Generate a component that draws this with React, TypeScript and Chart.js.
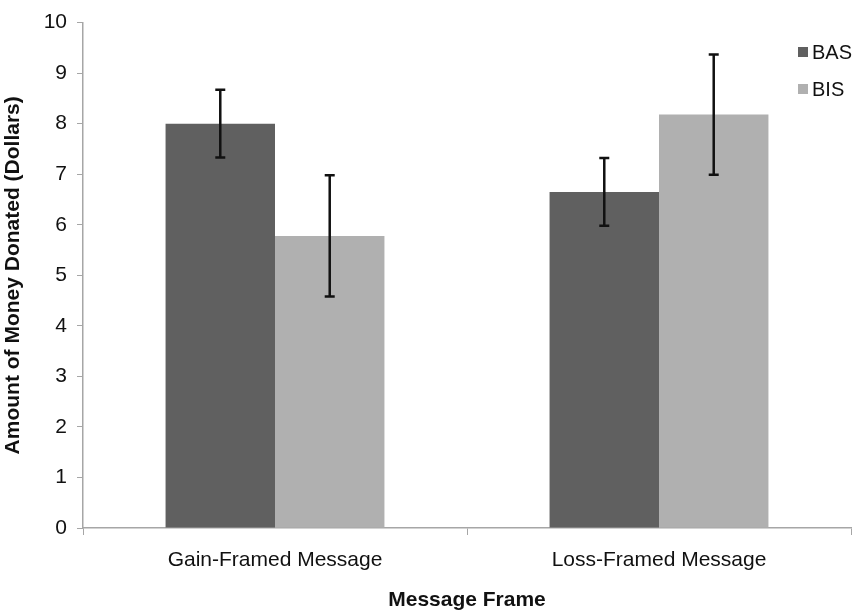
import React, { useEffect, useRef } from "react";
import { Chart, registerables } from "chart.js";

Chart.register(...registerables);

const categories = ["Gain-Framed Message", "Loss-Framed Message"];
const seriesNames = ["BAS", "BIS"];
const basValues = [8.0, 6.65];
const bisValues = [5.78, 8.18];
const basErrors = [0.67, 0.67];
const bisErrors = [1.2, 1.19];
const yTicks = [0, 1, 2, 3, 4, 5, 6, 7, 8, 9, 10];
const seriesColors = ["#606060", "#b0b0b0"];

const FONT = "'Liberation Sans', Arial, sans-serif";

const errorBarPlugin = {
  id: "errorBars",
  afterDatasetsDraw(chart: any) {
    const { ctx } = chart;
    const yScale = chart.scales.y;
    chart.data.datasets.forEach((ds: any, di: number) => {
      const meta = chart.getDatasetMeta(di);
      const errs: number[] = ds.errors || [];
      meta.data.forEach((el: any, i: number) => {
        const v = ds.data[i];
        const e = errs[i];
        if (e == null) return;
        const x = el.x;
        const yHi = yScale.getPixelForValue(v + e);
        const yLo = yScale.getPixelForValue(v - e);
        ctx.save();
        ctx.strokeStyle = "#111";
        ctx.lineWidth = 2.5;
        ctx.beginPath();
        ctx.moveTo(x, yHi);
        ctx.lineTo(x, yLo);
        ctx.moveTo(x - 5, yHi);
        ctx.lineTo(x + 5, yHi);
        ctx.moveTo(x - 5, yLo);
        ctx.lineTo(x + 5, yLo);
        ctx.stroke();
        ctx.restore();
      });
    });
  },
};

const legendPlugin = {
  id: "customLegend",
  afterDraw(chart: any) {
    const { ctx } = chart;
    const x0 = 798;
    const ys = [52, 89];
    ctx.save();
    chart.data.datasets.forEach((ds: any, i: number) => {
      const cy = ys[i];
      ctx.fillStyle = ds.backgroundColor;
      ctx.fillRect(x0, cy - 5, 10, 10);
      ctx.fillStyle = "#111";
      ctx.font = `20px ${FONT}`;
      ctx.textBaseline = "middle";
      ctx.textAlign = "left";
      ctx.fillText(ds.label, x0 + 14, cy + 1);
    });
    ctx.restore();
  },
};

export default function App() {
  const ref = useRef<HTMLCanvasElement | null>(null);

  useEffect(() => {
    if (!ref.current) return;
    const chart = new Chart(ref.current, {
      type: "bar",
      data: {
        labels: categories,
        datasets: [
          {
            label: seriesNames[0],
            data: basValues,
            backgroundColor: seriesColors[0],
            errors: basErrors,
            categoryPercentage: 0.57,
            barPercentage: 1.0,
          } as any,
          {
            label: seriesNames[1],
            data: bisValues,
            backgroundColor: seriesColors[1],
            errors: bisErrors,
            categoryPercentage: 0.57,
            barPercentage: 1.0,
          } as any,
        ],
      },
      options: {
        responsive: false,
        animation: false,
        layout: { padding: { top: 18, right: 6, left: 0, bottom: 0 } },
        plugins: {
          legend: { display: false },
          tooltip: { enabled: false },
        },
        scales: {
          x: {
            offset: true,
            grid: {
              display: true,
              drawOnChartArea: false,
              drawTicks: true,
              tickLength: 7,
              color: "#a6a6a6",
              offset: true,
            },
            border: { display: true, color: "#a6a6a6", width: 1.5 },
            ticks: {
              color: "#111",
              font: { family: FONT, size: 21 },
              padding: 13,
              maxRotation: 0,
            },
            title: {
              display: true,
              text: "Message Frame",
              color: "#111",
              font: { family: FONT, size: 21, weight: "bold" },
              padding: { top: 0, bottom: 0 },
            },
            afterFit(scale: any) {
              scale.height = 85;
            },
          },
          y: {
            min: 0,
            max: 10,
            afterBuildTicks(scale: any) {
              scale.ticks = yTicks.map((v) => ({ value: v }));
            },
            grid: {
              display: true,
              drawOnChartArea: false,
              drawTicks: true,
              tickLength: 6,
              color: "#a6a6a6",
            },
            border: { display: true, color: "#a6a6a6", width: 1.5 },
            ticks: {
              color: "#111",
              font: { family: FONT, size: 21 },
              padding: 10,
            },
            title: {
              display: true,
              text: "Amount of Money Donated (Dollars)",
              color: "#111",
              font: { family: FONT, size: 21, weight: "bold" },
              padding: { top: 1, bottom: 0 },
            },
            afterFit(scale: any) {
              scale.width = 83;
            },
          },
        },
      } as any,
      plugins: [errorBarPlugin, legendPlugin],
    });
    return () => chart.destroy();
  }, []);

  return (
    <div style={{ position: "absolute", left: 0, top: 0, width: 857, height: 613, background: "#fff" }}>
      <canvas ref={ref} width={857} height={613} />
    </div>
  );
}
